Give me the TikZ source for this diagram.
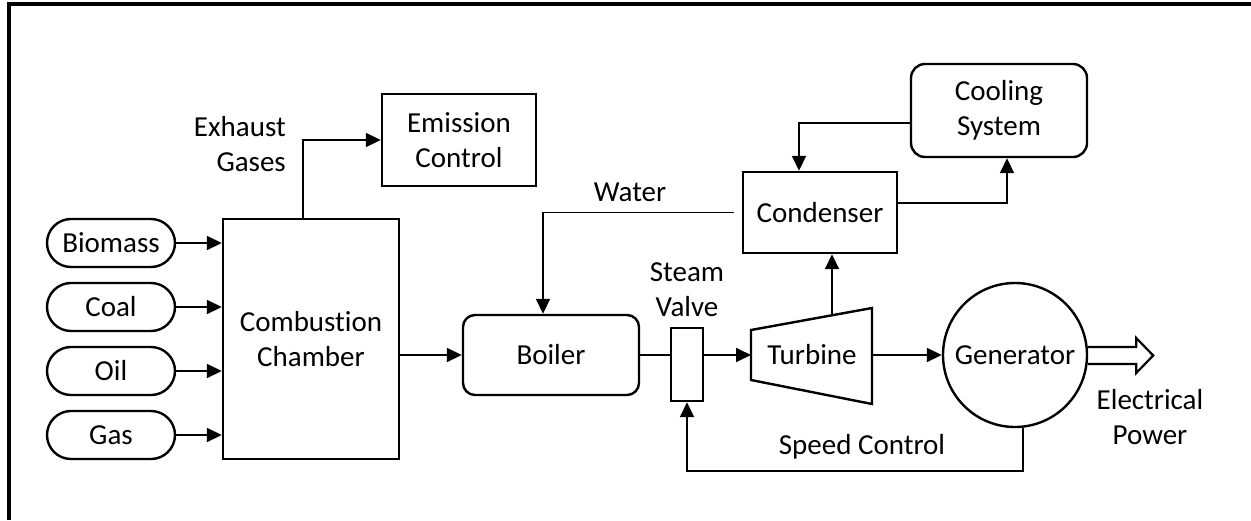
\documentclass[tikz,border=0pt]{standalone}
\usepackage{fontspec}
\setmainfont{Carlito}[Ligatures=NoCommon]
\usetikzlibrary{arrows.meta,calc}
\begin{document}
\begin{tikzpicture}[x=1pt,y=-1pt,
  txt/.style={font=\fontsize{29}{35}\selectfont,align=center,inner sep=0pt},
  box/.style={txt,draw,line width=2.4pt},
  pill/.style={box,rounded corners=24pt,minimum width=128pt,minimum height=48pt},
  conn/.style={line width=1.8pt,-{Triangle[length=15pt,width=14pt]}},
  plainline/.style={line width=1.8pt},
  lbl/.style={txt}]
\useasboundingbox (0,0) rectangle (1251,520);
% frame (right and bottom edges lie outside the picture)
\draw[line width=3.3pt,line join=miter] (9,520) -- (9,4) -- (1251,4);

% fuels
\node[pill] (bio)  at (111,243) {Biomass};
\node[pill] (coal) at (111,307) {Coal};
\node[pill] (oil)  at (111,371) {Oil};
\node[pill] (gas)  at (111,435) {Gas};

% main blocks
\node[box,minimum width=176pt,minimum height=240pt] (cc) at (311,339) {Combustion\\Chamber};
\node[box,minimum width=154pt,minimum height=92pt] (ec) at (459,140) {Emission\\Control};
\node[box,rounded corners=12pt,minimum width=176pt,minimum height=80pt] (boil) at (551,355) {Boiler};
\node[box,minimum width=32pt,minimum height=73pt] (valve) at (687,364.5) {};
\node[box,minimum width=154pt,minimum height=81pt] (cond) at (820,212.5) {Condenser};
\node[box,rounded corners=14pt,minimum width=176pt,minimum height=93pt] (cool) at (999,110.5) {Cooling\\System};
\node[box,circle,minimum size=144pt] (gen) at (1015,355) {Generator};

% turbine
\coordinate (t1) at (751,330);
\coordinate (t2) at (872,308);
\coordinate (t3) at (872,404);
\coordinate (t4) at (751,380);
\draw[line width=2.4pt,line join=miter] (t1) -- (t2) -- (t3) -- (t4) -- cycle;
\node[lbl] (turb) at (812,355) {Turbine};
\coordinate (tin) at (751,355);
\coordinate (tout) at (872,355);
\coordinate (ttop) at (832,315.3);

% labels
\node[lbl,align=right,anchor=east] (exh) at (286,144.5) {Exhaust\\Gases};
\node[lbl] (water) at (630,192) {Water};
\node[lbl] (sv) at (687,289.5) {Steam\\Valve};
\node[lbl] (spd) at (862,447) {Speed Control};
\node[lbl] (ep) at (1150,417) {Electrical\\Power};

% connectors
\foreach \f in {bio,coal,oil,gas}
  \draw[conn] (\f.east) -- (\f.east -| cc.west);
\draw[conn] ($(cc.north)+(-8,0)$) |- (ec.west);
\draw[conn] (cc.east |- boil.west) -- (boil.west);
\draw[plainline] (boil.east) -- (valve.west |- boil.east);
\draw[conn] (valve.east |- tin) -- (tin);
\draw[conn] (ttop) -- (ttop |- cond.south);
\draw[conn] (tout) -- (gen.west);
\draw[conn] ($(cond.west)+(-8,0)$) -| ($(boil.north)+(-8,0)$);
\draw[conn] ($(cool.west)+(0,12.5)$) -| ($(cond.north)+(-21,0)$);
\draw[conn] ($(cond.east)+(0,-9.5)$) -| ($(cool.south)+(8,0)$);
\draw[conn] (gen.-84) |- ($(valve.south)+(0,69)$) -- (valve.south);

% electrical power output arrow
\draw[line width=2.2pt,line join=miter] ($(gen.east)+(0,-8)$) -- ++(48,0) -- ++(0,-9)
  -- ++(17,17.5) -- ++(-17,17.5) -- ++(0,-9) -- ++(-48,0);
\end{tikzpicture}
\end{document}
